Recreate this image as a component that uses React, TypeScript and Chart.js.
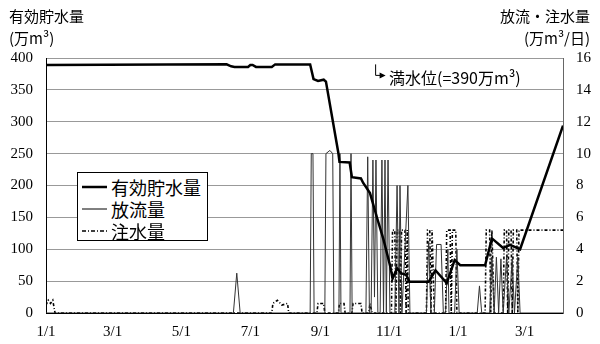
import React, { useEffect, useRef } from 'react';
import { Chart, registerables } from 'chart.js';
Chart.register(...registerables);

// x values are days counted from 1/1 of the first year
const monthTickDays = [0, 59, 120, 181, 243, 304, 365, 424];
const monthTickLabels = ['1/1', '3/1', '5/1', '7/1', '9/1', '11/1', '1/1', '3/1'];
const xMaxDay = 458;

// 有効貯水量 (万m3) – left axis
const storageDays = [0, 160, 164, 167, 179, 181, 183, 186, 200, 203, 234, 237, 241, 246, 248, 259, 260, 269, 271, 279, 281, 287, 293, 299, 305, 307, 311, 315, 319, 322, 339, 345, 355, 362, 367, 389, 395, 405, 411, 420, 458];
const storageValues = [389, 390, 387, 386, 386, 389, 389, 386, 386, 390, 390, 367, 364, 366, 363, 251, 237, 236, 213, 211, 204, 188, 151, 115, 73, 54, 70, 62, 60, 49, 49, 67, 47, 83, 75, 75, 117, 102, 107, 100, 294];

// 放流量 (万m3/日) – right axis
const outflowDays = [0, 166, 169, 172, 234, 235, 236.5, 237.5, 247, 248, 251.5, 254, 255, 259.5, 260.4, 261.3, 269.3, 270.2, 271.2, 283.4, 285, 286.5, 288, 289.6, 291, 292.3, 294, 296, 297.6, 299, 300.3, 301.5, 303, 304.7, 309, 311, 312.7, 313.6, 315.3, 320.6, 322.4, 337, 339, 341, 344, 346, 350, 352, 354, 356, 357, 362, 364, 366, 382, 384, 386, 393, 395, 397, 399, 401, 403, 405, 408, 410, 413, 415, 418, 420, 458];
const outflowValues = [0, 0, 2.5, 0, 0, 10, 10, 0, 0, 10, 10.2, 10, 0, 0, 10, 0, 0, 10, 0, 0, 9.8, 0, 0, 9.6, 1, 9.6, 0, 0, 9.6, 0, 9.6, 0, 9.6, 0, 0, 8, 0, 8, 0, 8, 0, 0, 4.5, 0, 0, 4.3, 4.3, 0, 0, 4.0, 0, 0, 4.0, 0, 0, 1.7, 0, 0, 3.5, 0, 3.5, 0, 3.4, 0, 3.5, 0, 3.4, 0, 3.5, 0, 0];

// 注水量 (万m3/日) – right axis
const injectionDays = [0, 2, 4, 6, 8, 200, 201, 205, 209, 214, 215, 240, 241, 246, 247, 259, 260, 264, 265, 271, 272, 279, 280, 286, 287, 289, 306, 307, 309, 310, 311, 313, 314, 315, 318, 319, 320, 321, 337, 338, 340, 341, 342, 344, 354, 355, 358, 359, 360, 363, 364, 389, 390, 393, 394, 395, 397, 405, 406, 408, 409, 410, 412, 413, 414, 417, 418, 419, 458];
const injectionValues = [0.5, 0.8, 0.6, 0.8, 0, 0, 0.6, 0.8, 0.5, 0.6, 0, 0, 0.6, 0.6, 0, 0, 0.6, 0.6, 0, 0, 0.6, 0.6, 0, 0, 0.6, 0, 0, 5.2, 5.2, 0, 5.2, 5.2, 0, 5.2, 5.2, 0, 5.2, 0, 0, 5.2, 5.2, 0, 5.2, 0, 0, 5.2, 5.2, 0, 5.2, 5.2, 0, 0, 5.2, 5.2, 0, 5.2, 0, 0, 5.2, 5.2, 0, 5.2, 5.2, 0, 5.2, 5.2, 0, 5.2, 5.2];

const fullLevel = 390;
const fullLevelArrowDay = 292;

const seriesNames = ['有効貯水量', '放流量', '注水量'];

const cjk = "'Noto Sans CJK JP', sans-serif";
const tickFont = { family: "'Liberation Serif', 'Times New Roman', serif", size: 15 };

export default function App() {
  const ref = useRef<HTMLCanvasElement>(null);

  useEffect(() => {
    document.body.style.margin = '0';
    const canvas = ref.current!;
    const pts = (d: number[], v: number[]) => d.map((x, i) => ({ x, y: v[i] }));

    const arrowPlugin = {
      id: 'fullLevelArrow',
      afterDatasetsDraw(chart: any) {
        const c = chart.ctx;
        const x = chart.scales.x.getPixelForValue(fullLevelArrowDay);
        const y0 = chart.scales.y.getPixelForValue(fullLevel);
        const y1 = y0 + 11;
        c.save();
        c.strokeStyle = '#000';
        c.fillStyle = '#000';
        c.lineWidth = 1;
        c.beginPath();
        c.moveTo(x, y0);
        c.lineTo(x, y1);
        c.lineTo(x + 5, y1);
        c.stroke();
        c.beginPath();
        c.moveTo(x + 10, y1);
        c.lineTo(x + 4, y1 - 3);
        c.lineTo(x + 4, y1 + 3);
        c.closePath();
        c.fill();
        c.restore();
      },
    };

    const chart = new Chart(canvas, {
      type: 'line',
      data: {
        datasets: [
          {
            label: seriesNames[0],
            data: pts(storageDays, storageValues),
            yAxisID: 'y',
            borderColor: '#000',
            borderWidth: 2.5,
            pointRadius: 0,
            tension: 0,
          },
          {
            label: seriesNames[1],
            data: pts(outflowDays, outflowValues),
            yAxisID: 'y2',
            borderColor: '#333',
            borderWidth: 1,
            pointRadius: 0,
            tension: 0,
          },
          {
            label: seriesNames[2],
            data: pts(injectionDays, injectionValues),
            yAxisID: 'y2',
            borderColor: '#000',
            borderWidth: 1.6,
            borderDash: [3, 2, 1, 2],
            pointRadius: 0,
            tension: 0,
          },
        ],
      },
      options: {
        responsive: false,
        animation: false,
        layout: { padding: { top: 58, left: 0, right: 0, bottom: 0 } },
        plugins: { legend: { display: false }, tooltip: { enabled: false } },
        scales: {
          x: {
            type: 'linear',
            min: 0,
            max: xMaxDay,
            grid: { display: false, drawTicks: false },
            border: { color: '#000', width: 1 },
            ticks: {
              autoSkip: false,
              maxRotation: 0,
              padding: 10,
              color: '#000',
              font: tickFont,
              callback: (_v: any, i: number) => monthTickLabels[i],
            },
            afterBuildTicks: (s: any) => {
              s.ticks = monthTickDays.map((v) => ({ value: v }));
            },
            afterFit: (s: any) => {
              s.height = 31;
            },
          },
          y: {
            position: 'left',
            min: 0,
            max: 400,
            grid: { color: '#999', drawTicks: false },
            border: { color: '#000', width: 1 },
            ticks: { stepSize: 50, padding: 13, color: '#000', font: tickFont },
            afterFit: (s: any) => {
              s.width = 46;
            },
          },
          y2: {
            position: 'right',
            min: 0,
            max: 16,
            grid: { display: false, drawTicks: false },
            border: { color: '#666', width: 1 },
            ticks: { stepSize: 2, padding: 13, color: '#000', font: tickFont },
            afterFit: (s: any) => {
              s.width = 37;
            },
          },
        },
      },
      plugins: [arrowPlugin],
    });
    return () => chart.destroy();
  }, []);

  const abs = (left: number, top: number, size: number, extra: any = {}) => ({
    position: 'absolute' as const,
    left,
    top,
    fontFamily: cjk,
    fontSize: size,
    lineHeight: 1,
    whiteSpace: 'nowrap' as const,
    color: '#000',
    ...extra,
  });

  const legendRow = (i: number, stroke: any) => (
    <div key={i} style={{ position: 'absolute', left: 4, top: 4 + i * 22, height: 20, display: 'flex', alignItems: 'center' }}>
      <svg width={25} height={6} style={{ display: 'block' }}>
        <line x1={0} y1={3} x2={25} y2={3} stroke="#000" {...stroke} />
      </svg>
      <span style={{ marginLeft: 4, fontFamily: cjk, fontSize: 18, lineHeight: 1 }}>{seriesNames[i]}</span>
    </div>
  );

  return (
    <div style={{ position: 'relative', width: 600, height: 344, background: '#fff', overflow: 'hidden' }}>
      <canvas ref={ref} width={600} height={344} style={{ display: 'block' }} />
      <div style={abs(9, 8, 15)}>有効貯水量</div>
      <div style={abs(9, 30, 15)}>(万m³)</div>
      <div style={abs(0, 8, 15, { left: 'auto', right: 10 })}>放流・注水量</div>
      <div style={abs(0, 30, 15, { left: 'auto', right: 10 })}>(万m³/日)</div>
      <div style={abs(389, 69, 16)}>満水位(=390万m³)</div>
      <div style={{ position: 'absolute', left: 77, top: 172, width: 129, height: 67, border: '1px solid #000', background: '#fff' }}>
        {legendRow(0, { strokeWidth: 2.5 })}
        {legendRow(1, { strokeWidth: 1 })}
        {legendRow(2, { strokeWidth: 1.5, strokeDasharray: '4 2 1 2' })}
      </div>
    </div>
  );
}
